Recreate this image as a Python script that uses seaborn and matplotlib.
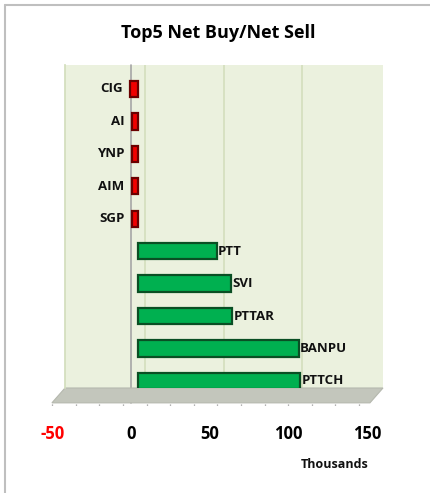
import matplotlib
matplotlib.use("Agg")
import matplotlib.pyplot as plt
import matplotlib.transforms as mtransforms
from matplotlib.patches import Polygon
import pandas as pd
import seaborn as sns

# data (thousands)
stocks = ["CIG", "AI", "YNP", "AIM", "SGP", "PTT", "SVI", "PTTAR", "BANPU", "PTTCH"]
net_values = [-5, -4, -4, -4, -4, 50, 59, 60, 102, 103]
tick_values = [-50, 0, 50, 100, 150]
tick_colors = ["#FF0000", "black", "black", "black", "black"]

# fake 3d depth shift (in data units) between front plane and bar plane
depth = 4.5

sns.set_theme(style="white")
plt.rcParams["font.family"] = ["Open Sans", "DejaVu Sans"]

df = pd.DataFrame({"stock": stocks, "value": net_values})
face = ["#F00000" if v < 0 else "#00B050" for v in net_values]
edge = ["#6A0000" if v < 0 else "#0A4F24" for v in net_values]

fig = plt.figure(figsize=(4.3, 4.93), dpi=100)
ax = fig.add_axes([65 / 430, 1 - 388 / 493, 318 / 430, 323 / 493])
ax.set_facecolor("#EBF1DE")

sns.barplot(data=df, x="value", y="stock", hue="stock", palette=face,
            legend=False, width=0.5, saturation=1, ax=ax, orient="h")
for bar, ec in zip(ax.patches, edge):
    bar.set_edgecolor(ec)
    bar.set_linewidth(1.6)
    bar.set_zorder(3)

ax.set_xlim(-46.4, 155.7)
ax.set_ylim(9.22, -0.74)

# back-wall gridlines and front zero line
for t in tick_values[1:-1]:
    ax.axvline(t + depth, color="#D3DEBD", lw=1.2, zorder=0)
ax.axvline(-depth, color="#A6A6A6", lw=1.2, zorder=0.5, ymin=-0.046, clip_on=False)

for s in ax.spines.values():
    s.set_visible(False)
ax.spines["left"].set_visible(True)
ax.spines["left"].set_color("#D3DEBD")
ax.set_xticks([])
ax.set_yticks([])
ax.set_xlabel("")
ax.set_ylabel("")

# floor
blend = mtransforms.blended_transform_factory(ax.transData, ax.transAxes)
xl, xr = ax.get_xlim()
shift = 8.3
floor = Polygon([(xl, 0), (xr, 0), (xr - shift, -0.046), (xl - shift, -0.046)],
                closed=True, transform=blend, facecolor="#C3C6BC",
                edgecolor="#B5B8AE", lw=0.8, clip_on=False, zorder=1)
ax.add_patch(floor)
for t in range(-50, 151, 15):
    ax.plot([t - depth, t - depth], [-0.048, -0.06], transform=blend,
            color="#999999", lw=0.9, ls=(0, (1, 1.5)), clip_on=False)

# bar labels
for i, (name, v) in enumerate(zip(stocks, net_values)):
    if v < 0:
        ax.text(v - 4.5, i, name, ha="right", va="center", fontsize=9.5,
                fontweight="bold", color="#111111")
    else:
        ax.text(v + 0.8, i, name, ha="left", va="center", fontsize=9.5,
                fontweight="bold", color="#111111")

# tick labels on the front plane
for t, c in zip(tick_values, tick_colors):
    ax.text(t - depth, -0.142, str(t), transform=blend, ha="center", va="center",
            fontsize=12, fontweight="bold", color=c)

fig.text(335 / 430, 1 - 464 / 493, "Thousands", ha="center", va="center",
         fontsize=9, fontweight="bold", color="#111111")
fig.text(218 / 430, 1 - 33 / 493, "Top5 Net Buy/Net Sell", ha="center", va="center",
         fontsize=13, fontweight="bold", color="black")

# outer frame (left and top edges)
fig.add_artist(plt.Line2D([5 / 430, 5 / 430], [0, 1 - 5 / 493], color="#BFBFBF", lw=1.5,
                          transform=fig.transFigure))
fig.add_artist(plt.Line2D([5 / 430, 1], [1 - 5 / 493, 1 - 5 / 493], color="#BFBFBF", lw=1.5,
                          transform=fig.transFigure))

fig.savefig("out.png", dpi=100)
